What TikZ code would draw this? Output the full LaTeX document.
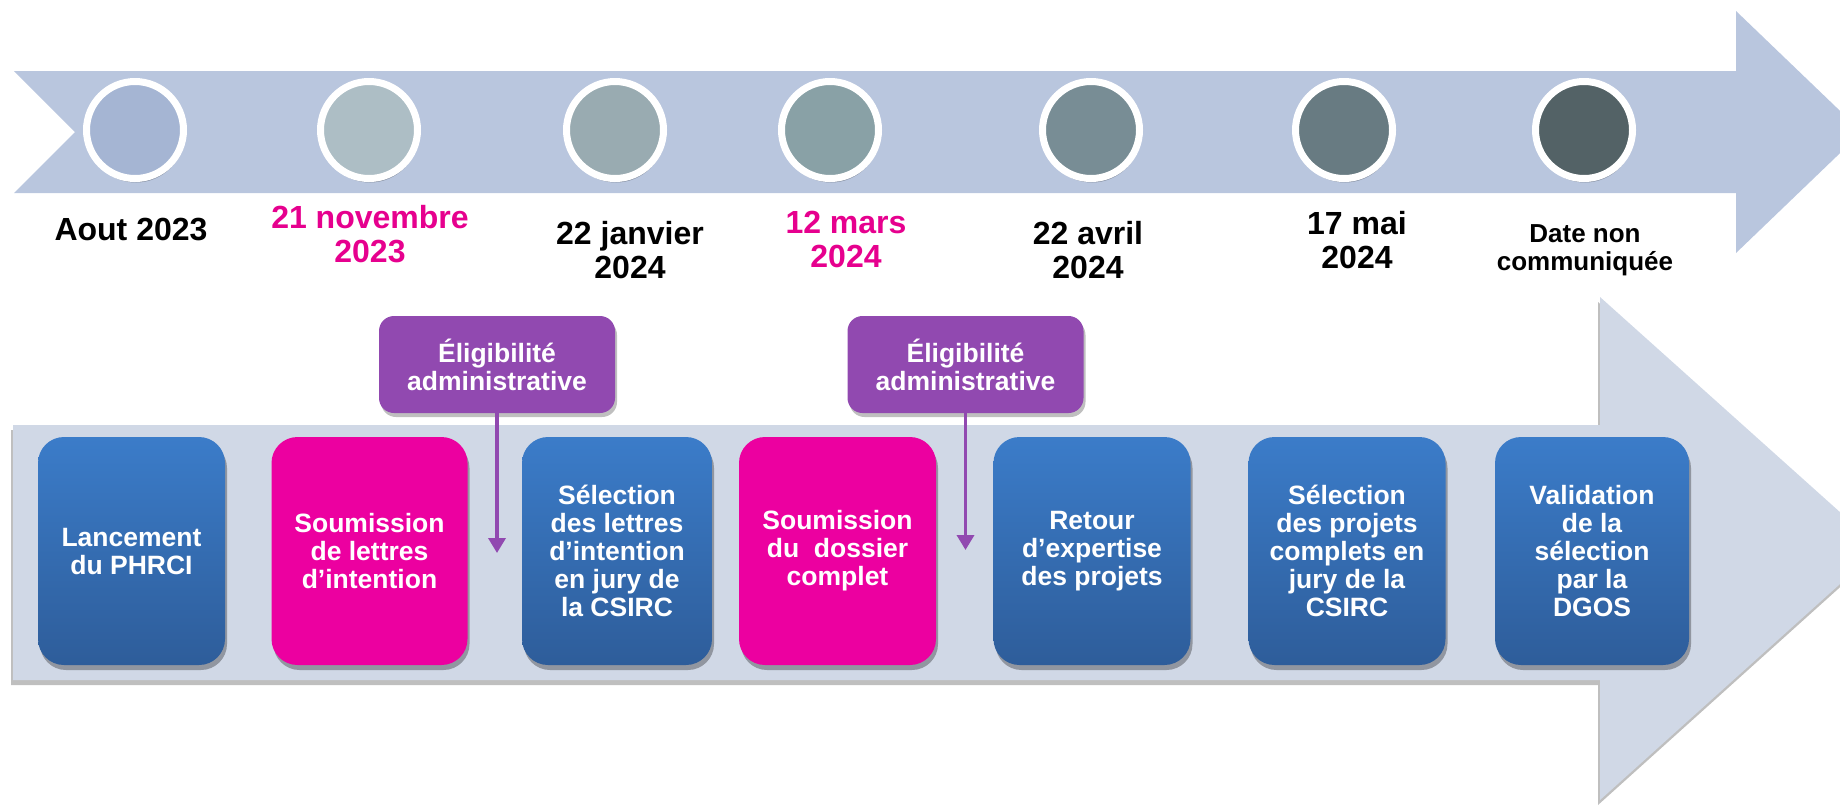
\documentclass[tikz,border=0pt]{standalone}
\usepackage{fontspec}
\setmainfont{Liberation Sans}
\usetikzlibrary{arrows.meta,shadows}
\definecolor{bandtop}{HTML}{B9C6DE}
\definecolor{bandbot}{HTML}{D0D8E6}
\definecolor{boxtop}{HTML}{3B7CC9}
\definecolor{boxbot}{HTML}{2E5D9A}
\definecolor{pinkc}{HTML}{EC00A0}
\definecolor{pinktxt}{HTML}{E6008E}
\definecolor{purpc}{HTML}{9149B0}
\definecolor{cA}{HTML}{A5B5D3}
\definecolor{cB}{HTML}{ADBEC5}
\definecolor{cC}{HTML}{99ABB1}
\definecolor{cD}{HTML}{89A1A6}
\definecolor{cE}{HTML}{788D95}
\definecolor{cF}{HTML}{687B82}
\definecolor{cG}{HTML}{536266}
\begin{document}
\begin{tikzpicture}[x=0.5pt,y=-0.5pt,
  dot/.style={circle, draw=white, line width=3.5pt, minimum size=48.5pt, inner sep=0pt,
    drop shadow={shadow xshift=0.5pt, shadow yshift=-2pt, opacity=0.25, fill=black}},
  datelbl/.style={align=center, inner sep=0pt, font=\bfseries\fontsize{16pt}{17pt}\selectfont, text=black},
  datepink/.style={datelbl, text=pinktxt},
  datesmall/.style={datelbl, font=\bfseries\fontsize{13pt}{14pt}\selectfont},
  stagebox/.style={rounded corners=13pt, minimum height=114pt, inner sep=0pt, align=center,
    text=white, font=\bfseries\fontsize{13.25pt}{14pt}\selectfont,
    drop shadow={shadow xshift=1pt, shadow yshift=-2.5pt, opacity=0.3, fill=black}},
  bluebox/.style={stagebox, top color=boxtop, bottom color=boxbot},
  pinkbox/.style={stagebox, fill=pinkc},
  eligbox/.style={rounded corners=7.5pt, minimum width=118pt, minimum height=48.5pt, inner sep=0pt,
    align=center, fill=purpc, text=white, font=\bfseries\fontsize{13.25pt}{14pt}\selectfont,
    drop shadow={shadow xshift=1pt, shadow yshift=-2pt, opacity=0.25, fill=black}},
  eligarrow/.style={draw=purpc, line width=1.75pt, -{Triangle[length=7.5pt,width=8.5pt]}}
]
\useasboundingbox (0,0) rectangle (1840,810);
\clip (0,0) rectangle (1840,810);

% top timeline arrow
\fill[bandtop] (14,71) -- (1736,71) -- (1736,11) -- (1862,132) -- (1736,253)
  -- (1736,193) -- (14,193) -- (75,132) -- cycle;

% bottom process arrow
\fill[bandbot, drop shadow={shadow xshift=-1pt, shadow yshift=-2.5pt, opacity=0.25, fill=black}]
  (13,425) -- (1600,425) -- (1600,297) -- (1880,548) -- (1600,800)
  -- (1600,680) -- (13,680) -- cycle;

% circles
\node[dot, fill=cA] (c1) at (135,130) {};
\node[dot, fill=cB] (c2) at (369,130) {};
\node[dot, fill=cC] (c3) at (615,130) {};
\node[dot, fill=cD] (c4) at (830,130) {};
\node[dot, fill=cE] (c5) at (1091,130) {};
\node[dot, fill=cF] (c6) at (1344,130) {};
\node[dot, fill=cG] (c7) at (1584,130) {};

% dates
\node[datelbl] (d1) at (131,229) {Aout 2023};
\node[datepink] (d2) at (370,234) {21 novembre\\2023};
\node[datelbl] (d3) at (630,250) {22 janvier\\2024};
\node[datepink] (d4) at (846,239) {12 mars\\2024};
\node[datelbl] (d5) at (1088,250) {22 avril\\2024};
\node[datelbl] (d6) at (1357,240) {17 mai\\2024};
\node[datesmall] (d7) at (1585,250) {Date non\\communiquée};

% stage boxes
\node[bluebox, minimum width=93.5pt] (b1) at (131.5,551) {Lancement\\du PHRCI};
\node[pinkbox, minimum width=98pt] (b2) at (369.5,551) {Soumission\\de lettres\\d’intention};
\node[bluebox, minimum width=95pt] (b3) at (617,551) {Sélection\\des lettres\\d’intention\\en jury de\\la CSIRC};
\node[pinkbox, minimum width=98.5pt] (b4) at (837.5,551) {Soumission\\du\ \ dossier\\complet};
\node[bluebox, minimum width=98.5pt] (b5) at (1092,551) {Retour\\d’expertise\\des projets};
\node[bluebox, minimum width=98.5pt] (b6) at (1347,551) {Sélection\\des projets\\complets en\\jury de la\\CSIRC};
\node[bluebox, minimum width=97pt] (b7) at (1592,551) {Validation\\de la\\sélection\\par la\\DGOS};

% eligibility boxes and arrows
\node[eligbox] (e1) at (497,364.5) {Éligibilité\\administrative};
\node[eligbox] (e2) at (965.5,364.5) {Éligibilité\\administrative};
\coordinate (t1) at (497,553);
\coordinate (t2) at (965.5,550);
\draw[eligarrow] (e1.south) -- (t1);
\draw[eligarrow] (e2.south) -- (t2);
\end{tikzpicture}
\end{document}
